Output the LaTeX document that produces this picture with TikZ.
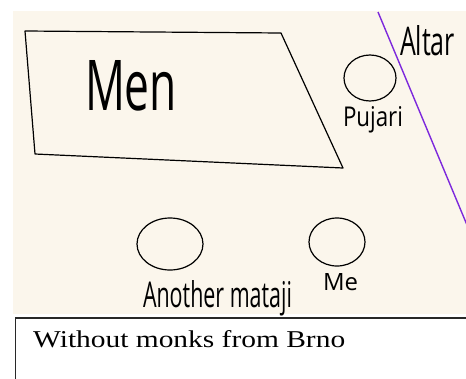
\documentclass[tikz,border=0pt]{standalone}
\usepackage{fontspec}
\usepackage{graphicx}
\usetikzlibrary{shapes.geometric}
\newfontfamily\handfont{Open Sans}
\setmainfont{Liberation Serif}
\definecolor{paper}{RGB}{251,246,236}
\definecolor{altarline}{RGB}{125,40,220}
\definecolor{boxline}{RGB}{40,40,40}
\tikzset{
  ink/.style={draw=black,line width=1.2pt},
  person/.style={ink,ellipse,inner sep=0pt},
  hand/.style={inner sep=0pt,outer sep=0pt,font=\handfont,anchor=base west},
}
\begin{document}
\begin{tikzpicture}[x=1pt,y=-1pt]
\useasboundingbox (0,0) rectangle (466,378);
\fill[white] (0,0) rectangle (466,378);
\fill[paper] (13,11) rectangle (466,314);
% Men area
\coordinate (m1) at (25,31);
\coordinate (m2) at (281,33);
\coordinate (m3) at (343,168);
\coordinate (m4) at (35,154);
\draw[ink,line join=round] (m1) -- (m2) -- (m3) -- (m4) -- cycle;
\node[hand] (men) at (85,110) {\resizebox{92pt}{50pt}{Men}};
% altar line
\coordinate (a1) at (378,12);
\coordinate (a2) at (467,225);
\draw[altarline,line width=1.4pt] (a1) -- (a2);
\node[hand] (altar) at (400,55) {\resizebox{55pt}{30pt}{Altar}};
% pujari
\node[person,minimum width=52pt,minimum height=46pt] (pujari) at (370,78) {};
\node[hand] (pujarilbl) at (343,126) {\resizebox{60pt}{20pt}{Pujari}};
% another mataji
\node[person,minimum width=66pt,minimum height=52pt] (mataji) at (170,244) {};
\node[hand] (matajilbl) at (143,307) {\resizebox{149pt}{27pt}{Another mataji}};
% me
\node[person,minimum width=56pt,minimum height=48pt] (me) at (337,242) {};
\node[hand] (melbl) at (323,290) {\resizebox{35pt}{17pt}{Me}};
% caption box
\coordinate (c1) at (15.5,318);
\coordinate (c2) at (470,390);
\draw[boxline,line width=1.1pt] (c1) rectangle (c2);
\node[inner sep=0pt,anchor=base west] (caption) at (33,347) {\resizebox{312pt}{17pt}{Without monks from Brno}};
\end{tikzpicture}
\end{document}
